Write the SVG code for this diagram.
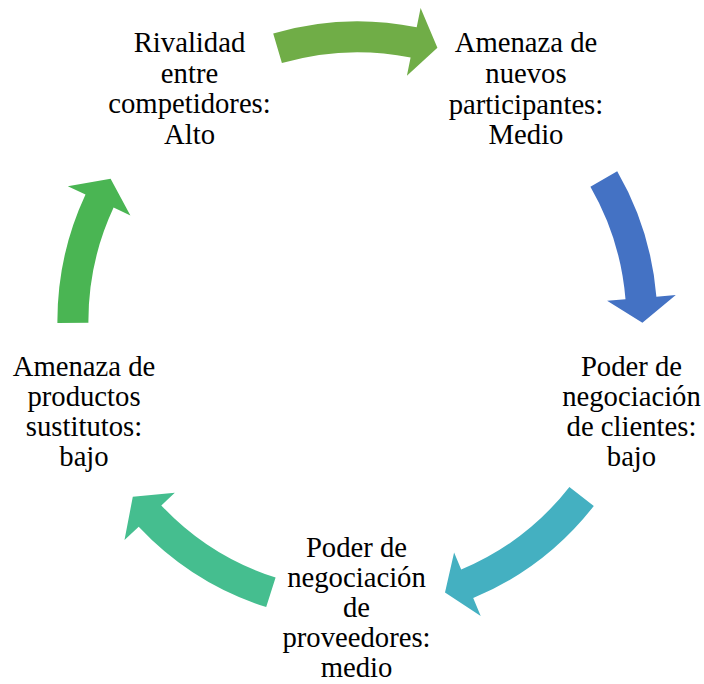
<svg xmlns="http://www.w3.org/2000/svg" width="704" height="684" viewBox="0 0 704 684">
<style>
text{font-family:"Liberation Serif","Times New Roman",serif;font-size:28.7px;fill:#000;text-anchor:middle}
</style>
<rect width="704" height="684" fill="#fff"/>
<g id="connectors">
<path id="arrow-a" fill="#70AD47" d="M273.2,33.4 A300,300 0 0 1 416.7,27.2 L420.6,8.1 L437.4,47.8 L406.9,75.7 L410.6,57.6 A269,269 0 0 0 281.9,63.1 Z"/>
<path id="arrow-b" fill="#4472C4" d="M617.2,171.3 A300,300 0 0 1 656.4,296.7 L675.8,295.1 L642.4,322.8 L607.1,300.8 L625.5,299.3 A269,269 0 0 0 590.4,186.8 Z"/>
<path id="arrow-c" fill="#44B0C1" d="M593.8,506.0 A300,300 0 0 1 473.2,598.1 L480.7,616.0 L445.0,592.5 L454.1,552.4 L461.2,569.5 A269,269 0 0 0 569.4,486.9 Z"/>
<path id="arrow-d" fill="#45BE8F" d="M266.2,607.1 A300,300 0 0 1 138.7,526.7 L124.5,540.0 L132.8,496.8 L174.8,492.8 L161.3,505.4 A269,269 0 0 0 275.6,577.6 Z"/>
<path id="arrow-e" fill="#4AB553" d="M57.4,322.9 A300,300 0 0 1 85.5,194.5 L67.8,186.3 L110.6,178.8 L130.4,215.4 L113.6,207.6 A269,269 0 0 0 88.4,322.7 Z"/>
</g>
<g id="node-rivalidad">
<text x="189.5" y="52">Rivalidad</text>
<text x="189.5" y="82.5">entre</text>
<text x="189.5" y="113">competidores:</text>
<text x="189.5" y="143.5">Alto</text>
</g>
<g id="node-nuevos">
<text x="526" y="52.3">Amenaza de</text>
<text x="526" y="83">nuevos</text>
<text x="526" y="113.6">participantes:</text>
<text x="526" y="144.2">Medio</text>
</g>
<g id="node-clientes">
<text x="631.5" y="375.5">Poder de</text>
<text x="631.5" y="405.5">negociación</text>
<text x="631.5" y="435.5">de clientes:</text>
<text x="631.5" y="465.5">bajo</text>
</g>
<g id="node-proveedores">
<text x="356.5" y="557">Poder de</text>
<text x="356.5" y="587">negociación</text>
<text x="356.5" y="617">de</text>
<text x="356.5" y="647">proveedores:</text>
<text x="356.5" y="677">medio</text>
</g>
<g id="node-sustitutos">
<text x="84" y="375.5">Amenaza de</text>
<text x="84" y="405.5">productos</text>
<text x="84" y="435.5">sustitutos:</text>
<text x="84" y="465.5">bajo</text>
</g>
</svg>
